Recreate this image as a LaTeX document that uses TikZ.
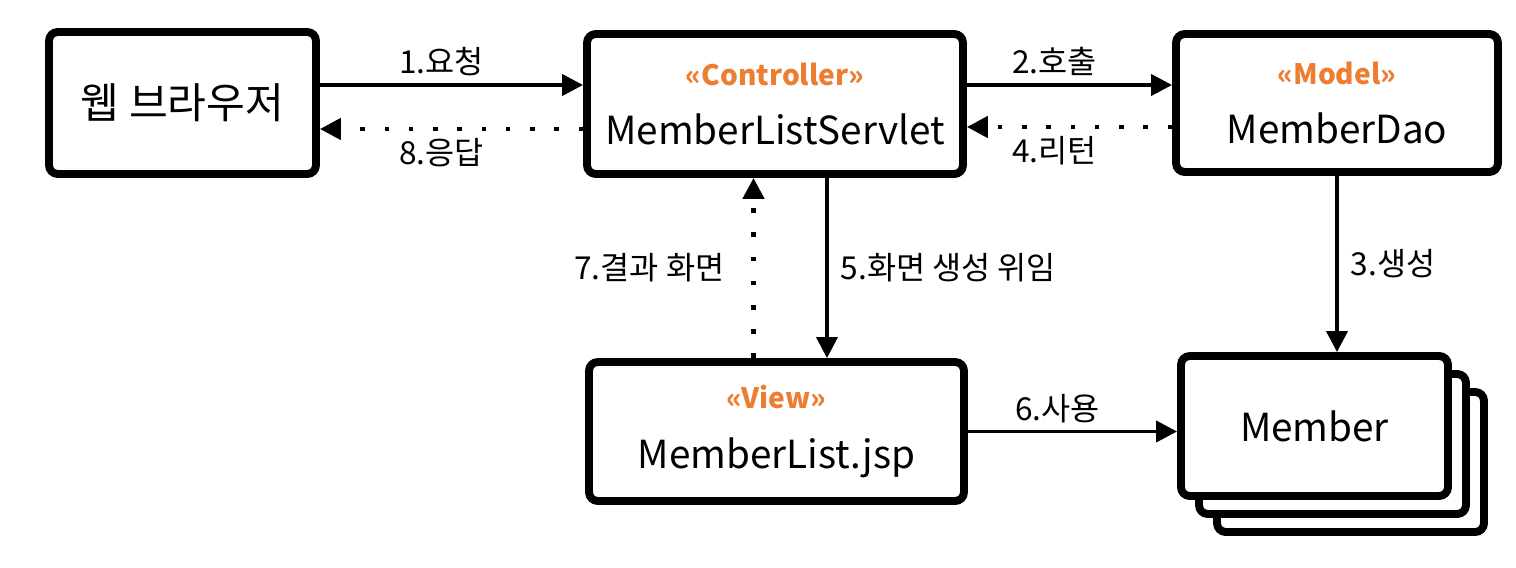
\documentclass[tikz,border=0pt]{standalone}
\usepackage{fontspec}
\setmainfont{Noto Sans CJK KR}
\usetikzlibrary{arrows.meta}
\definecolor{stereo}{HTML}{ED7D31}
\newcommand\stereotag[1]{{\fontsize{16}{19}\selectfont\bfseries\color{stereo}#1}}

\begin{document}
\begin{tikzpicture}[x=0.02cm, y=-0.02cm,
    box/.style={draw=black, line width=4.5pt, rounded corners=5pt, fill=white,
        inner sep=0pt, align=center, font=\fontsize{22}{27}\selectfont},
    call/.style={draw=black, line width=2.2pt, -{Triangle[length=0.42cm,width=0.42cm]}},
    reply/.style={call, line width=2.6pt, dash pattern=on 2.6pt off 11.2pt},
    lbl/.style={font=\fontsize{18}{21}\selectfont, inner sep=4pt}]
    \useasboundingbox (0,0) rectangle (1516,568);

    \node[box, minimum width=5.34cm, minimum height=2.84cm, font=\fontsize{24}{28}\selectfont] (brw) at (182.5,103) {웹 브라우저};

    \node[box, minimum width=7.52cm, minimum height=2.8cm] (ctrl) at (775,104)
        {\stereotag{«Controller»}\\[7pt]MemberListServlet};

    \node[box, minimum width=6.44cm, minimum height=2.76cm] (mdao) at (1337,103)
        {\stereotag{«Model»}\\[7pt]MemberDao};

    \node[box, minimum width=7.5cm, minimum height=2.78cm] (view) at (776.5,431.5)
        {\stereotag{«View»}\\[7pt]MemberList.jsp};

    \node[box, minimum width=5.34cm, minimum height=2.8cm] (mem3) at (1350.5,462) {};
    \node[box, minimum width=5.34cm, minimum height=2.8cm] (mem2) at (1332.5,444) {};
    \node[box, minimum width=5.34cm, minimum height=2.8cm] (mem) at (1314.5,426) {Member};

    \draw[call] ([yshift=0.36cm]brw.east) -- ([yshift=0.36cm]brw.east -| ctrl.west)
        node[lbl, midway, above, xshift=-0.2cm] {1.요청};
    \draw[reply] ([yshift=-0.5cm]ctrl.west) -- ([yshift=-0.5cm]ctrl.west -| brw.east)
        node[lbl, midway, below, xshift=-0.2cm] {8.응답};

    \draw[call] ([yshift=0.38cm]ctrl.east) -- ([yshift=0.38cm]ctrl.east -| mdao.west)
        node[lbl, midway, above, xshift=-0.3cm] {2.호출};
    \draw[reply] ([yshift=-0.48cm]mdao.west) -- ([yshift=-0.48cm]mdao.west -| ctrl.east)
        node[lbl, midway, below, xshift=-0.3cm] {4.리턴};

    \draw[call] (mdao.south) -- (mdao.south |- mem.north)
        node[lbl, midway, right, xshift=0.1cm] {3.생성};

    \draw[call] ([xshift=1.04cm]ctrl.south) -- ([xshift=1.04cm]ctrl.south |- view.north)
        node[lbl, midway, right, xshift=0.1cm] {5.화면 생성 위임};
    \draw[reply] ([xshift=-0.46cm]view.north) -- ([xshift=-0.46cm]view.north |- ctrl.south)
        node[lbl, midway, left, xshift=-0.4cm] {7.결과 화면};

    \draw[call] (view.east) -- (view.east -| mem.west)
        node[lbl, midway, above, xshift=-0.3cm] {6.사용};

\end{tikzpicture}
\end{document}
